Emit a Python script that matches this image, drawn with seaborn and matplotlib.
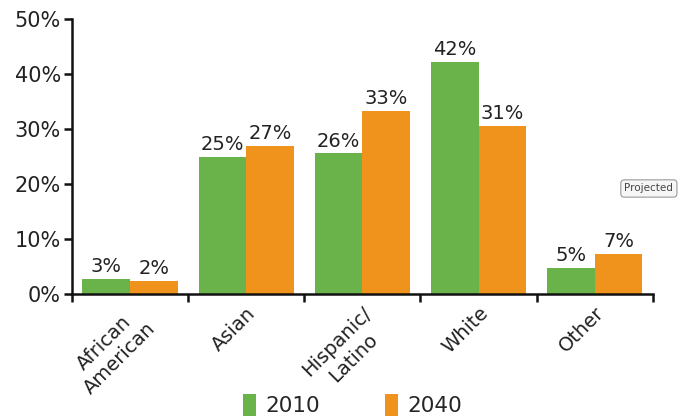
import pandas as pd
import matplotlib
matplotlib.use("Agg")
import matplotlib.pyplot as plt
import seaborn as sns
from matplotlib.ticker import FuncFormatter

# Share of population by group, 2010 vs projected 2040
groups = ['African\nAmerican', 'Asian', 'Hispanic/\nLatino', 'White', 'Other']
share_2010 = [2.7, 24.9, 25.6, 42.2, 4.8]
share_2040 = [2.4, 26.9, 33.3, 30.6, 7.3]
labels_2010 = ['3%', '25%', '26%', '42%', '5%']
labels_2040 = ['2%', '27%', '33%', '31%', '7%']
years = ['2010', '2040']

green = '#6ab24a'
orange = '#ef931c'

df = pd.DataFrame({
    'group': groups * 2,
    'share': share_2010 + share_2040,
    'year': [years[0]] * len(groups) + [years[1]] * len(groups),
})

sns.set_style('white')
plt.rcParams['font.family'] = ['DejaVu Sans']

fig = plt.figure(figsize=(6.78, 4.17), dpi=100)
ax = fig.add_axes([0.106, 0.295, 0.857, 0.659])

sns.barplot(data=df, x='group', y='share', hue='year', hue_order=years,
            palette=[green, orange], width=0.82, gap=0, saturation=1,
            edgecolor='none', ax=ax)

for cont, labs in zip(ax.containers, [labels_2010, labels_2040]):
    ax.bar_label(cont, labels=labs, padding=2, fontsize=14, color='#222222')

ax.set_ylim(0, 50)
ax.set_yticks(range(0, 51, 10))
ax.yaxis.set_major_formatter(FuncFormatter(lambda v, p: f'{int(v)}%'))
ax.set_xlim(-0.5, len(groups) - 0.5)
ax.set_xlabel('')
ax.set_ylabel('')

for side in ['top', 'right']:
    ax.spines[side].set_visible(False)
for side in ['left', 'bottom']:
    ax.spines[side].set_color('#111111')
    ax.spines[side].set_linewidth(1.8)

# tick marks between categories on the x axis, labels at centres
ax.set_xticks([i - 0.5 for i in range(len(groups) + 1)], minor=False)
ax.set_xticklabels([])
ax.set_xticks(range(len(groups)), minor=True)
ax.set_xticklabels(groups, minor=True, rotation=45, ha='right',
                   rotation_mode='anchor', fontsize=14, color='#222222',
                   multialignment='center')
ax.tick_params(axis='x', which='major', direction='out', length=6, width=1.8,
               color='#111111', bottom=True)
ax.tick_params(axis='x', which='minor', length=0, pad=7)
ax.tick_params(axis='y', direction='out', length=6, width=1.8, color='#111111',
               left=True, labelsize=15, labelcolor='#222222', pad=2)

sns.move_legend(ax, 'lower center', bbox_to_anchor=(0.52, -0.045),
                bbox_transform=fig.transFigure, ncol=2, frameon=False,
                title=None, fontsize=15.5, handlelength=0.6, handleheight=1.25,
                handletextpad=0.45, columnspacing=3.0)

# leftover tooltip from the source screenshot
fig.text(0.921, 0.548, 'Projected', fontsize=7.5, color='#444444',
         va='center', ha='left',
         bbox=dict(boxstyle='round,pad=0.35', fc='#f6f6f6', ec='#999999', lw=0.8))

fig.savefig('out.png', dpi=100)
